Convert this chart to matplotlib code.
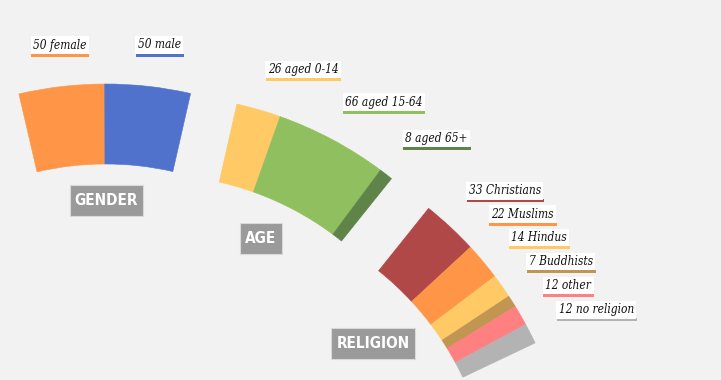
"""
Arc infographic: world as 100 people by gender, age and religion.
Three exploded wedges of one ring, each with italic labels and a grey title tag.
"""
import matplotlib.pyplot as plt
import numpy as np
from matplotlib.patches import Rectangle, Wedge

# ---- data -------------------------------------------------------------
gender_names = ["female", "male"]
gender_values = [50, 50]
age_names = ["aged 0-14", "aged 15-64", "aged 65+"]
age_values = [26, 66, 8]
religion_names = ["Christians", "Muslims", "Hindus", "Buddhists", "other", "no religion"]
religion_values = [33, 22, 14, 7, 12, 12]
group_titles = ["GENDER", "AGE", "RELIGION"]

# ---- style / layout ---------------------------------------------------
gender_colors = ["#ff9647", "#5072cc"]
age_colors = ["#ffca66", "#8fbf5f", "#5f8449"]
religion_colors = ["#b04848", "#ff9647", "#ffca66", "#c09652", "#ff8080", "#b3b3b3"]

W, H = 721, 380
BG = "#f2f2f2"
RING_CENTER = (106.0, 573.0)   # pixel coords, y down
EXPLODE = 106.0
R_OUT, R_IN = 383.0, 303.0
START_DEG = 103.1
DEG_PER_UNIT = 0.259

# left edge x, underline top y of each label (pixels)
label_pos = [
    [(31, 53.5), (135.7, 53.5)],
    [(265.7, 78), (343.3, 110.7), (403.3, 147)],
    [(466.7, 199.3), (489.3, 222.7), (509.3, 246), (526.7, 270), (543.3, 294), (556.7, 318.3)],
]
title_pos = [(106.5, 200), (261, 238), (373, 343.3)]

fig = plt.figure(figsize=(W / 100, H / 100), dpi=100)
fig.patch.set_facecolor(BG)
ax = fig.add_axes([0, 0, 1, 1])
ax.set_xlim(0, W)
ax.set_ylim(H, 0)
ax.set_facecolor(BG)
ax.axis("off")

groups = [
    (gender_names, gender_values, gender_colors),
    (age_names, age_values, age_colors),
    (religion_names, religion_values, religion_colors),
]

label_texts = []
title_texts = []
angle = START_DEG
for gi, (names, values, colors) in enumerate(groups):
    span = sum(values) * DEG_PER_UNIT
    mid = np.radians(angle - span / 2)
    cx = RING_CENTER[0] + EXPLODE * np.cos(mid)
    cy = RING_CENTER[1] - EXPLODE * np.sin(mid)
    a = angle
    for name, v, c, (lx, ly) in zip(names, values, colors, label_pos[gi]):
        a2 = a - v * DEG_PER_UNIT
        # y axis is inverted, so screen angle a maps to data angle -a
        ax.add_patch(Wedge((cx, cy), R_OUT, -a, -a2, width=R_OUT - R_IN,
                           facecolor=c, edgecolor=c, linewidth=0.4))
        t = ax.text(lx + 2, ly - 2, f"{v} {name}", fontsize=8.6, style="italic",
                    family="DejaVu Serif", fontstretch="condensed",
                    color="#111111", ha="left", va="bottom",
                    bbox=dict(boxstyle="square,pad=0.2", fc="white", ec="none"))
        label_texts.append((t, lx, ly, c))
        a = a2
    angle -= span
    tx, ty = title_pos[gi]
    tt = ax.text(tx, ty + 0.5, group_titles[gi], fontsize=11, fontweight="bold",
                 family="DejaVu Sans", fontstretch="condensed", color="white",
                 ha="center", va="center", zorder=3)
    title_texts.append((tt, tx, ty))

fig.canvas.draw()
for t, lx, ly, c in label_texts:
    w = t.get_bbox_patch().get_window_extent().width
    ax.add_patch(Rectangle((lx, ly), w, 3, facecolor=c, edgecolor="none"))

for tt, tx, ty in title_texts:
    w = tt.get_window_extent().width + 10
    ax.add_patch(Rectangle((tx - w / 2, ty - 15.5), w, 31, facecolor="#9a9a9a",
                           edgecolor="#d9d9d9", linewidth=0.8, zorder=2))

fig.savefig("out.png", dpi=100, facecolor=BG)
